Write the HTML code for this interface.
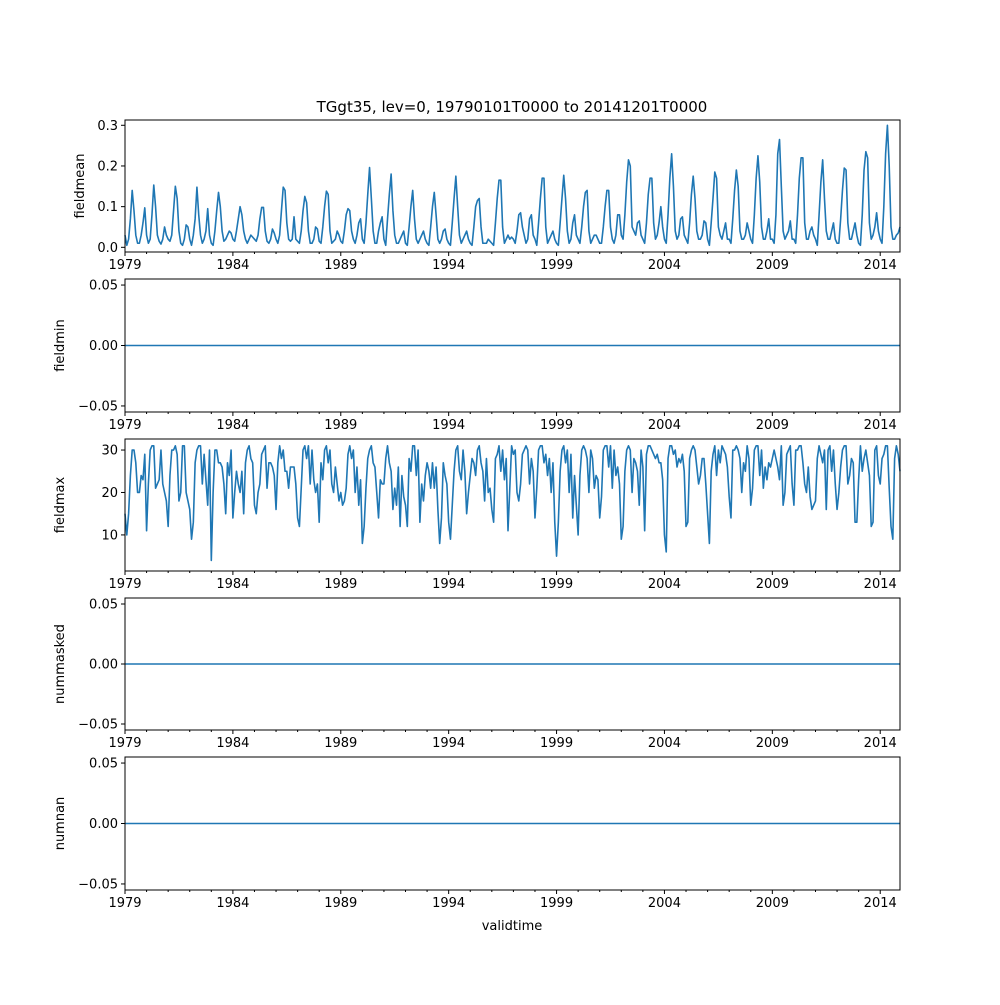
<!DOCTYPE html>
<html><head><meta charset="utf-8"><style>
body{margin:0;background:#fff}
svg{font-family:"DejaVu Sans","Liberation Sans",sans-serif}
</style></head><body>
<svg id="fig" width="1000" height="1000" xmlns="http://www.w3.org/2000/svg">
<rect width="1000" height="1000" fill="#fff"/>
<text x="512" y="112" font-size="15" text-anchor="middle">TGgt35, lev=0, 19790101T0000 to 20141201T0000</text>
<text x="512" y="930" font-size="13" text-anchor="middle">validtime</text>
</svg>
<script>
const startYear = 1979;
const majorYears = [1979,1984,1989,1994,1999,2004,2009,2014];
const panelNames = ["fieldmean","fieldmin","fieldmax","nummasked","numnan"];
const meanTicks = [0.0,0.1,0.2,0.3];
const zeroTicks = [-0.05,0.00,0.05];
const maxTicks = [10,20,30];
const fieldmean = [
0.03,0.005,0.02,0.07,0.14,0.09,0.03,0.01,0.01,0.03,0.06,0.097,
0.03,0.01,0.02,0.08,0.153,0.1,0.03,0.015,0.008,0.02,0.05,0.03,
0.02,0.015,0.03,0.09,0.15,0.12,0.04,0.01,0.005,0.02,0.055,0.05,
0.02,0.005,0.03,0.07,0.148,0.08,0.03,0.01,0.02,0.04,0.095,0.03,
0.01,0.005,0.04,0.09,0.135,0.1,0.04,0.015,0.02,0.03,0.04,0.035,
0.02,0.015,0.04,0.07,0.10,0.08,0.04,0.02,0.01,0.02,0.03,0.025,
0.02,0.015,0.03,0.07,0.098,0.098,0.04,0.015,0.01,0.02,0.045,0.035,
0.02,0.01,0.03,0.09,0.148,0.14,0.06,0.02,0.015,0.02,0.075,0.02,
0.015,0.01,0.04,0.09,0.125,0.11,0.04,0.01,0.01,0.02,0.05,0.045,
0.015,0.01,0.05,0.1,0.138,0.13,0.04,0.01,0.015,0.02,0.04,0.03,
0.015,0.01,0.04,0.08,0.095,0.09,0.04,0.02,0.01,0.03,0.06,0.07,
0.02,0.01,0.06,0.13,0.196,0.12,0.04,0.01,0.01,0.04,0.06,0.075,
0.02,0.005,0.07,0.13,0.18,0.09,0.03,0.01,0.01,0.02,0.03,0.04,
0.01,0.005,0.05,0.10,0.14,0.07,0.02,0.01,0.02,0.03,0.04,0.02,
0.01,0.005,0.05,0.10,0.135,0.08,0.02,0.01,0.02,0.04,0.045,0.02,
0.01,0.005,0.06,0.12,0.175,0.1,0.03,0.01,0.02,0.03,0.04,0.02,
0.01,0.005,0.05,0.10,0.115,0.12,0.05,0.01,0.01,0.01,0.02,0.015,
0.01,0.005,0.06,0.12,0.165,0.165,0.05,0.01,0.02,0.03,0.02,0.025,
0.02,0.01,0.04,0.08,0.085,0.05,0.03,0.01,0.02,0.07,0.08,0.03,
0.02,0.005,0.06,0.12,0.17,0.17,0.05,0.01,0.02,0.03,0.04,0.02,
0.01,0.005,0.06,0.12,0.177,0.12,0.04,0.01,0.02,0.06,0.08,0.03,
0.02,0.01,0.05,0.10,0.135,0.14,0.04,0.01,0.02,0.03,0.03,0.02,
0.01,0.01,0.05,0.10,0.14,0.14,0.05,0.02,0.01,0.03,0.08,0.08,
0.03,0.02,0.08,0.16,0.215,0.2,0.05,0.04,0.03,0.06,0.065,0.03,
0.02,0.01,0.06,0.13,0.17,0.17,0.06,0.02,0.03,0.06,0.1,0.05,
0.02,0.01,0.08,0.17,0.23,0.15,0.04,0.02,0.03,0.07,0.075,0.03,
0.02,0.01,0.06,0.13,0.175,0.12,0.04,0.02,0.02,0.03,0.065,0.06,
0.02,0.005,0.06,0.12,0.185,0.17,0.05,0.03,0.02,0.04,0.06,0.02,
0.02,0.01,0.07,0.14,0.19,0.15,0.04,0.02,0.02,0.03,0.06,0.04,
0.02,0.01,0.08,0.17,0.225,0.16,0.05,0.02,0.02,0.04,0.07,0.02,
0.02,0.01,0.08,0.23,0.265,0.15,0.04,0.02,0.03,0.04,0.065,0.02,
0.02,0.01,0.08,0.17,0.22,0.22,0.06,0.02,0.02,0.04,0.05,0.03,
0.02,0.005,0.08,0.16,0.215,0.12,0.04,0.02,0.02,0.04,0.06,0.02,
0.01,0.01,0.07,0.14,0.195,0.19,0.06,0.02,0.02,0.04,0.06,0.03,
0.01,0.005,0.08,0.19,0.235,0.22,0.06,0.02,0.03,0.05,0.085,0.04,
0.02,0.01,0.1,0.23,0.3,0.2,0.05,0.02,0.02,0.03,0.035,0.05
];
const fieldmax = [
15,10,15,24,30,30,27,20,20,24,23,29,
11,22,30,31,31,21,22,23,30,22,20,18,
12,24,30,30,31,29,18,20,31,31,20,18,
16,9,13,27,30,31,31,22,29,23,17,30,
4,20,30,30,27,27,26,22,15,27,24,30,
14,20,25,22,20,25,15,27,30,31,28,27,
17,15,20,22,29,30,31,21,27,27,26,24,
16,27,31,28,30,25,25,21,26,26,26,22,
14,12,21,30,31,28,31,22,30,23,20,22,
13,27,23,30,31,27,30,22,20,26,22,18,
20,17,18,21,29,31,28,30,20,26,17,23,
8,12,21,28,30,31,27,26,20,14,23,22,
22,28,31,27,25,16,21,17,26,12,24,19,
17,12,28,25,31,31,24,30,13,22,18,24,
27,25,21,27,21,26,16,8,14,27,24,22,
13,9,17,25,30,31,25,23,30,25,15,20,
24,28,27,24,30,31,27,25,18,28,20,21,
16,13,28,29,31,25,30,23,28,11,21,31,
29,30,20,18,22,29,30,31,30,22,28,25,
14,21,30,31,31,27,29,24,28,20,27,13,
5,13,25,30,31,27,30,20,29,14,24,17,
10,24,30,31,30,28,20,30,28,21,24,23,
14,19,30,31,31,26,31,21,30,24,26,22,
9,12,25,30,31,30,20,28,27,25,17,30,
26,11,29,31,31,30,29,28,29,27,27,23,
10,6,28,31,31,29,30,26,28,27,29,25,
12,13,28,30,31,30,26,22,24,28,28,22,
15,8,25,29,31,24,30,27,31,30,29,26,
19,14,30,30,31,30,28,20,27,25,31,28,
17,21,30,31,31,24,30,21,26,23,27,26,
28,30,28,26,23,31,17,20,29,30,31,22,
17,30,30,31,31,27,22,20,26,19,16,17,
18,28,31,29,27,30,16,30,31,25,30,22,
16,20,26,30,31,31,22,24,28,27,13,13,
23,31,25,28,30,27,24,12,13,30,31,24,
22,28,29,31,31,21,12,9,28,31,29,25
];
const fieldmin = new Array(432).fill(0);
const nummasked = new Array(432).fill(0);
const numnan = new Array(432).fill(0);

const NS="http://www.w3.org/2000/svg";
const svg=document.getElementById('fig');
const L=125,R=900;
const panels=[{top:120,bot:252},{top:279,bot:412},{top:439,bot:571},{top:598,bot:730},{top:757,bot:890}];
const nPts=fieldmean.length;
function xPos(i){return L+i*(R-L)/(nPts-1);}
function xYear(y){return L+(y-startYear)*12*(R-L)/(nPts-1);}
function mk(tag,attrs){const e=document.createElementNS(NS,tag);for(const k in attrs)e.setAttribute(k,attrs[k]);svg.appendChild(e);return e;}
const cfg=[
 {data:fieldmean,lo:-0.0115,hi:0.313,ticks:meanTicks,fmt:v=>v.toFixed(1)},
 {data:fieldmin,lo:-0.055,hi:0.055,ticks:zeroTicks,fmt:v=>v.toFixed(2)},
 {data:fieldmax,lo:1.5,hi:32.6,ticks:maxTicks,fmt:v=>String(v)},
 {data:nummasked,lo:-0.055,hi:0.055,ticks:zeroTicks,fmt:v=>v.toFixed(2)},
 {data:numnan,lo:-0.055,hi:0.055,ticks:zeroTicks,fmt:v=>v.toFixed(2)}
];
cfg.forEach((c,p)=>{
 const P=panels[p];
 const yS=v=>P.bot-(v-c.lo)/(c.hi-c.lo)*(P.bot-P.top);
 const pts=c.data.map((v,i)=>xPos(i).toFixed(2)+','+yS(v).toFixed(2)).join(' ');
 const line=mk('polyline',{points:pts,fill:'none',stroke:'#1f77b4','stroke-width':1.6,'stroke-linejoin':'round'});
 
 
 const fr=mk('rect',{x:L,y:P.top,width:R-L,height:P.bot-P.top,fill:'none',stroke:'#000','stroke-width':1});
 
 
 c.ticks.forEach(t=>{
  const y=yS(t);
  mk('line',{x1:L-4,x2:L,y1:y,y2:y,stroke:'#000'});
  const tx=mk('text',{x:L-7,y:y+4.5,'font-size':13,'text-anchor':'end'});
  tx.textContent=(t<0?'\u2212':'')+c.fmt(Math.abs(t));
  
  
 });
 for(let y=startYear;y<=2014;y++){
  const x=xYear(y);
  const major=majorYears.includes(y);
  mk('line',{x1:x,x2:x,y1:P.bot,y2:P.bot+(major?4:2),stroke:'#000'});
  if(major){
   const tx=mk('text',{x:x,y:P.bot+17,'font-size':13,'text-anchor':'middle'});
   tx.textContent=String(y);
   
   
  }
 }
 const yl=mk('text',{x:0,y:0,'font-size':13,'text-anchor':'middle',transform:'translate('+(p===0?84:64)+','+((P.top+P.bot)/2)+') rotate(-90)'});
 yl.textContent=panelNames[p];
 
 
});
</script>
</body></html>
